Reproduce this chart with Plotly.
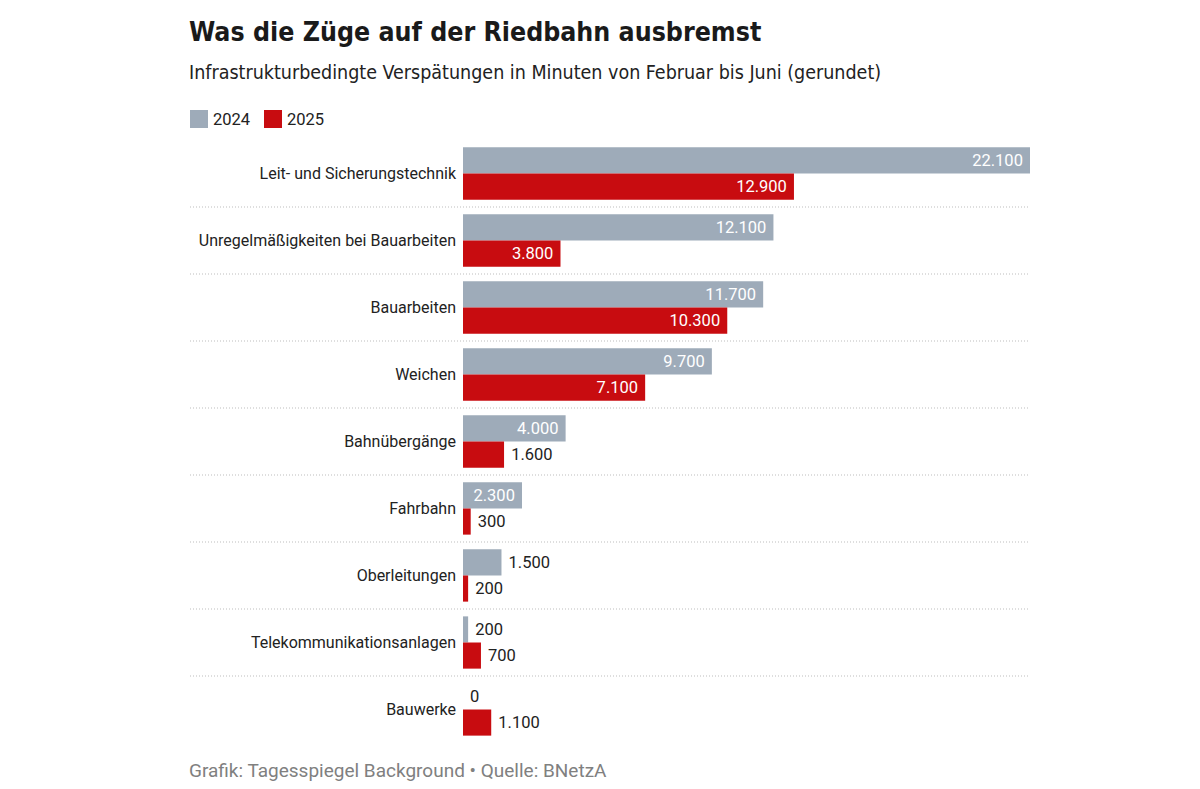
import plotly.graph_objects as go

categories = ["Leit- und Sicherungstechnik", "Unregelmäßigkeiten bei Bauarbeiten", "Bauarbeiten",
              "Weichen", "Bahnübergänge", "Fahrbahn", "Oberleitungen",
              "Telekommunikationsanlagen", "Bauwerke"]
values_2024 = [22100, 12100, 11700, 9700, 4000, 2300, 1500, 200, 0]
values_2025 = [12900, 3800, 10300, 7100, 1600, 300, 200, 700, 1100]
series_names = ["2024", "2025"]

GRAY = "#9eabb9"
RED = "#c80c10"
DARK = "#222222"
TITLE_FONT = "DejaVu Sans Condensed"
BODY = "Roboto"

W, H = 1200, 789
L, R, T, B = 463, 170, 140, 46
PW, PH = W - L - R, H - T - B

def fmt(v):
    return f"{v:,}".replace(",", ".")

def positions(vals):
    return ["inside" if v >= 2000 else "outside" for v in vals]

def labels(vals):
    return [fmt(v) + "\u00a0" if p == "inside" else "\u00a0" + fmt(v)
            for v, p in zip(vals, positions(vals))]

def px_to_paper_x(px):
    return (px - L) / PW

def px_to_paper_y(py):
    return 1 - (py - T) / PH

fig = go.Figure()
for name, vals, col in [(series_names[0], values_2024, GRAY), (series_names[1], values_2025, RED)]:
    fig.add_trace(go.Bar(
        y=categories, x=vals, orientation="h", name=name,
        marker=dict(color=col, line=dict(width=0)),
        text=labels(vals), textposition=positions(vals),
        insidetextanchor="end", constraintext="none", cliponaxis=False,
        insidetextfont=dict(color="white", size=16.5, family=BODY),
        outsidetextfont=dict(color=DARK, size=16.5, family=BODY),
        showlegend=False, hoverinfo="skip",
    ))

for i in range(len(categories) - 1):
    fig.add_shape(type="line", xref="paper", yref="y", x0=px_to_paper_x(190), x1=1.0,
                  y0=i + 0.5, y1=i + 0.5, line=dict(color="#bdbdbd", width=1, dash="1px,2px"))

# manual legend
leg_x = [190, 264]
for name, col, lx in zip(series_names, [GRAY, RED], leg_x):
    fig.add_shape(type="rect", xref="paper", yref="paper",
                  x0=px_to_paper_x(lx), x1=px_to_paper_x(lx + 18),
                  y0=px_to_paper_y(128), y1=px_to_paper_y(110),
                  fillcolor=col, line=dict(width=0))
    fig.add_annotation(text=name, xref="paper", yref="paper",
                       x=px_to_paper_x(lx + 21), xanchor="left",
                       y=px_to_paper_y(119), yanchor="middle", showarrow=False,
                       font=dict(family=BODY, size=16.5, color=DARK))

fig.update_layout(
    width=W, height=H,
    paper_bgcolor="white", plot_bgcolor="white",
    margin=dict(l=L, r=R, t=T, b=B),
    barmode="group", bargap=0.22, bargroupgap=0,
    showlegend=False,
    font=dict(family=BODY, color=DARK, size=16),
    title=dict(text="<b>Was die Züge auf der Riedbahn ausbremst</b>",
               x=189 / W, xanchor="left", y=1 - 32 / H, yanchor="middle",
               font=dict(family=TITLE_FONT, size=26.5, color="#1a1a1a")),
    xaxis=dict(range=[0, 22100], visible=False, fixedrange=True),
    yaxis=dict(autorange="reversed", showgrid=False, showline=False, ticks="",
               tickfont=dict(size=16, family=BODY, color=DARK), ticklabelstandoff=6,
               zeroline=False),
)

fig.add_annotation(text="Infrastrukturbedingte Verspätungen in Minuten von Februar bis Juni (gerundet)",
                   xref="paper", yref="paper", x=px_to_paper_x(187), xanchor="left",
                   y=px_to_paper_y(72), yanchor="middle", showarrow=False,
                   font=dict(family=TITLE_FONT, size=19.5, color="#222"))
fig.add_annotation(text="Grafik: Tagesspiegel Background • Quelle: BNetzA",
                   xref="paper", yref="paper", x=px_to_paper_x(187), xanchor="left",
                   y=px_to_paper_y(770), yanchor="middle", showarrow=False,
                   font=dict(family=BODY, size=19, color="#808080"))

fig.write_html("out.html", config={"displayModeBar": False},
               post_script="document.body.style.margin='0';")
